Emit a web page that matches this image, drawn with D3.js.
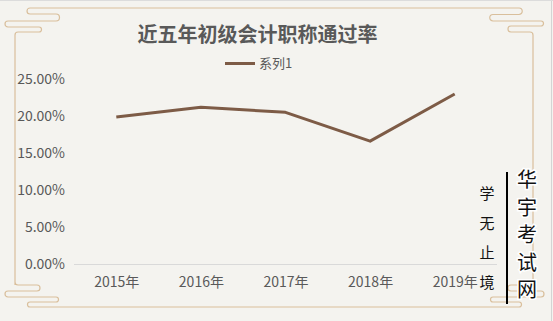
<!DOCTYPE html>
<html>
<head>
<meta charset="utf-8">
<script src="https://cdn.jsdelivr.net/npm/d3@7"></script>
<style>
  body { margin: 0; background: #f4f3ef; }
  svg { display: block; }
  text { font-family: "Noto Sans CJK SC", "Noto Sans", sans-serif; }
</style>
</head>
<body>
<svg id="chart" width="553" height="321"></svg>
<script>
(function() {
    var width = 553, height = 321

    // data
    const years = ["2015年", "2016年", "2017年", "2018年", "2019年"];
    const passRates = [0.1985, 0.2118, 0.2050, 0.1660, 0.2297];
    const yTicks = [0, 0.05, 0.10, 0.15, 0.20, 0.25];
    const title = "近五年初级会计职称通过率";
    const seriesName = "系列1";
    const motto = ["学", "无", "止", "境"];
    const brand = ["华", "宇", "考", "试", "网"];

    const svg = d3.select("#chart");

    svg.append("rect")
        .attr("width", width).attr("height", height)
        .attr("fill", "#f4f3ef");

    // faint sheet grid lines at the edges
    svg.append("line")
        .attr("x1", 551.5).attr("x2", 551.5).attr("y1", 0).attr("y2", height)
        .attr("stroke", "#d4d4d4");
    svg.append("line")
        .attr("x1", 0).attr("x2", width).attr("y1", 0.5).attr("y2", 0.5)
        .attr("stroke", "#dcdcdc");

    // decorative meander frame
    const r = 3;
    let frame = d3.path();
    // top-left meander, from left vertical up to top line
    frame.moveTo(15, 285);
    frame.lineTo(15, 35);
    frame.quadraticCurveTo(15, 32, 18, 32);
    frame.lineTo(42 - r, 32);
    frame.arc(42 - r, 29.5, 2.5, Math.PI / 2, -Math.PI / 2, true);
    frame.lineTo(5 + r, 27);
    frame.arc(5 + r, 24, 3, Math.PI / 2, -Math.PI / 2, false);
    frame.lineTo(59 - r, 21);
    frame.arc(59 - r, 17.5, 3.5, Math.PI / 2, -Math.PI / 2, true);
    frame.lineTo(27 + r, 14);
    frame.arc(27 + r, 11, 3, Math.PI / 2, -Math.PI / 2, false);
    // top line to the top-right meander
    frame.lineTo(522 - r, 8);
    frame.arc(522 - r, 11.25, 3.25, -Math.PI / 2, Math.PI / 2, false);
    frame.lineTo(490 + r, 14.5);
    frame.arc(490 + r, 17.75, 3.25, -Math.PI / 2, Math.PI / 2, true);
    frame.lineTo(544 - r, 21);
    frame.arc(544 - r, 23.5, 2.5, -Math.PI / 2, Math.PI / 2, false);
    frame.lineTo(508 + r, 26);
    frame.arc(508 + r, 29, 3, -Math.PI / 2, Math.PI / 2, true);
    frame.lineTo(530, 32);
    frame.quadraticCurveTo(533, 32, 533, 35);
    frame.lineTo(533, 282);
    // bottom-right meander
    frame.quadraticCurveTo(533, 285, 530, 285);
    frame.lineTo(508 + r, 285);
    frame.arc(508 + r, 288, 3, -Math.PI / 2, Math.PI / 2, true);
    frame.lineTo(544 - r, 291);
    frame.arc(544 - r, 294, 3, -Math.PI / 2, Math.PI / 2, false);
    frame.lineTo(490 + r, 297);
    frame.arc(490 + r, 299.5, 2.5, -Math.PI / 2, Math.PI / 2, true);
    frame.lineTo(522 - r, 302);
    frame.arc(522 - r, 304.5, 2.5, -Math.PI / 2, Math.PI / 2, false);
    // bottom line to the bottom-left meander
    frame.lineTo(27 + r, 307);
    frame.arc(27 + r, 304.5, 2.5, Math.PI / 2, -Math.PI / 2, false);
    frame.lineTo(59 - r, 302);
    frame.arc(59 - r, 299.5, 2.5, Math.PI / 2, -Math.PI / 2, true);
    frame.lineTo(5 + r, 297);
    frame.arc(5 + r, 294, 3, Math.PI / 2, -Math.PI / 2, false);
    frame.lineTo(40 - r, 291);
    frame.arc(40 - r, 288, 3, Math.PI / 2, -Math.PI / 2, true);
    frame.lineTo(18, 285);
    frame.quadraticCurveTo(15, 285, 15, 282);

    svg.append("path")
        .attr("d", frame.toString())
        .attr("fill", "none")
        .attr("stroke", "#d9bf9c")
        .attr("stroke-width", 1.2);

    // scales
    let x = d3.scalePoint()
        .domain(years)
        .range([74, 497])
        .padding(0.5);

    let y = d3.scaleLinear()
        .domain([0, 0.25])
        .range([264, 79]);

    // title and legend
    svg.append("text")
        .attr("x", 257.5).attr("y", 42)
        .attr("text-anchor", "middle")
        .attr("font-size", "20px")
        .attr("font-weight", "bold")
        .attr("fill", "#595959")
        .text(title);

    svg.append("line")
        .attr("x1", 225).attr("x2", 255).attr("y1", 63.5).attr("y2", 63.5)
        .attr("stroke", "#7d5b46").attr("stroke-width", 3);
    svg.append("text")
        .attr("x", 259).attr("y", 68)
        .attr("font-size", "13px")
        .attr("fill", "#595959")
        .text(seriesName);

    // y axis labels
    const yAxis = d3.axisLeft(y)
        .tickValues(yTicks)
        .tickFormat(d3.format(".2%"))
        .tickSize(0)
        .tickPadding(0);

    svg.append("g")
        .attr("transform", "translate(65,0)")
        .call(yAxis)
        .call(g => g.select(".domain").remove())
        .call(g => g.selectAll("text")
            .attr("font-size", "14px")
            .attr("fill", "#595959")
            .attr("font-family", "\"Noto Sans CJK SC\", sans-serif"));

    // x axis
    const xAxis = d3.axisBottom(x).tickSize(0).tickPadding(0);
    svg.append("g")
        .attr("transform", "translate(0,264)")
        .call(xAxis)
        .call(g => g.select(".domain").remove())
        .call(g => g.selectAll("text")
            .attr("dy", "0")
            .attr("y", 23)
            .attr("font-size", "14px")
            .attr("fill", "#595959")
            .attr("font-family", "\"Noto Sans CJK SC\", sans-serif"));

    svg.append("line")
        .attr("x1", 74).attr("x2", 497)
        .attr("y1", y(0) + 0.5).attr("y2", y(0) + 0.5)
        .attr("stroke", "#d9d9d9");

    // the series line
    const line = d3.line()
        .x((d, i) => x(years[i]))
        .y(d => y(d));

    svg.append("path")
        .datum(passRates)
        .attr("d", line)
        .attr("fill", "none")
        .attr("stroke", "#7d5b46")
        .attr("stroke-width", 3)
        .attr("stroke-linejoin", "round");

    // side text
    svg.append("g")
        .selectAll("text")
        .data(motto)
        .join("text")
        .attr("x", 487)
        .attr("y", (d, i) => 199 + i * 29.5)
        .attr("text-anchor", "middle")
        .attr("font-size", "15px")
        .attr("fill", "#111")
        .text(d => d);

    svg.append("line")
        .attr("x1", 507).attr("x2", 507).attr("y1", 172).attr("y2", 304)
        .attr("stroke", "#000").attr("stroke-width", 2);

    svg.append("g")
        .selectAll("text")
        .data(brand)
        .join("text")
        .attr("x", 527)
        .attr("y", (d, i) => 187 + i * 27.5)
        .attr("text-anchor", "middle")
        .attr("font-size", "20px")
        .attr("fill", "#111")
        .attr("stroke", "#fff")
        .attr("stroke-width", 3)
        .attr("paint-order", "stroke")
        .text(d => d);
})()
</script>
</body>
</html>
